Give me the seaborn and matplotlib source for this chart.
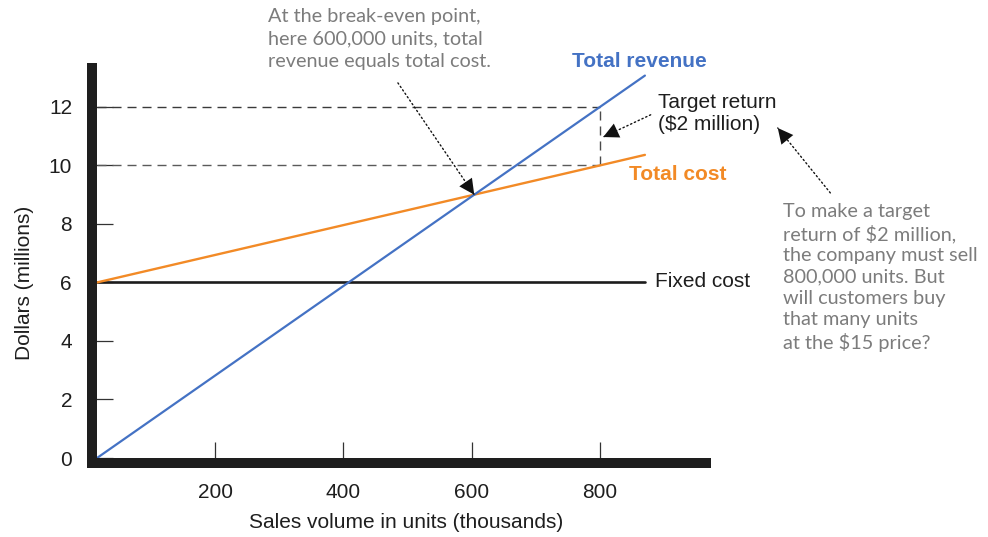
import matplotlib
matplotlib.use("Agg")
import matplotlib.pyplot as plt
import seaborn as sns
import pandas as pd

# Break-even chart values (units in thousands, dollars in millions)
units_k = [16, 604, 800, 870]
revenue = [0, 9, 12, 13.07]
total_cost = [6, 9, 10, 10.36]
fixed_cost = [6, 6, 6, 6]

x_ticks = [200, 400, 600, 800]
y_ticks = [0, 2, 4, 6, 8, 10, 12]

break_even = (604, 9)
target_units = 800
target_revenue = 12
target_cost = 10

sns.set_style("white")
plt.rcParams["font.family"] = ["Liberation Sans", "DejaVu Sans"]

fig = plt.figure(figsize=(9.88, 5.37), dpi=100)
ax = fig.add_axes([97 / 988, 79 / 537, 614 / 988, 395 / 537])

df = pd.DataFrame({"units": units_k, "revenue": revenue,
                   "cost": total_cost, "fixed": fixed_cost})

BLUE = "#4472C4"
ORANGE = "#F28A26"
NOTE = "#7c7c7c"

x0 = units_k[0]
ax.set_xlim(x0, 973)
ax.set_ylim(0, 13.5)

# target-return guide lines
ax.hlines(target_revenue, x0, target_units, colors="#3a3a3a", lw=1.0,
          linestyles=(0, (6.5, 4.3)))
ax.hlines(target_cost, x0, target_units, colors="#5a5a5a", lw=1.0,
          linestyles=(0, (6.5, 4.3)))
ax.vlines(target_units, target_cost, target_revenue, colors="#4a4a4a", lw=1.0,
          linestyles=(0, (6.5, 4.3)))

sns.lineplot(data=df, x="units", y="fixed", color="#1c1c1c", lw=1.9, ax=ax)
sns.lineplot(data=df, x="units", y="cost", color=ORANGE, lw=1.7, ax=ax)
sns.lineplot(data=df, x="units", y="revenue", color=BLUE, lw=1.6, ax=ax)

# heavy axis bars
for side in ("top", "right"):
    ax.spines[side].set_visible(False)
for side in ("left", "bottom"):
    sp = ax.spines[side]
    sp.set_visible(True)
    sp.set_linewidth(7.2)
    sp.set_color("#1e1e1e")
    sp.set_position(("outward", 3.6))
    sp.set_capstyle("butt")
ax.spines["left"].set_bounds(-0.342, 13.5)
ax.spines["bottom"].set_bounds(x0 - 15.6, 973)

ax.set_xticks(x_ticks)
ax.set_yticks(y_ticks)
ax.tick_params(bottom=True, left=True, direction="in", length=15, width=0.9,
               color="#333333", pad=14.4, labelsize=15, labelcolor="#1e1e1e")

ax.set_xlabel("Sales volume in units (thousands)", fontsize=15, color="#1e1e1e")
ax.set_ylabel("Dollars (millions)", fontsize=15, color="#1e1e1e")
ax.xaxis.set_label_coords((406 - 97) / 614, (458 - 513) / 395)
ax.yaxis.set_label_coords((34 - 97) / 614, (458 - 283) / 395)

# line labels
ax.text(757, 13.54, "Total revenue", color=BLUE, fontsize=15,
        fontweight="bold", ha="left", va="center")
ax.text(845, 9.68, "Total cost", color=ORANGE, fontsize=15,
        fontweight="bold", ha="left", va="center")
ax.text(890, 11.76, "Target return\n($2 million)", color="#1e1e1e",
        fontsize=15, ha="left", va="center", linespacing=1.2)
ax.text(885, 6.02, "Fixed cost", color="#1e1e1e", fontsize=15,
        ha="left", va="center")

# notes
note_font = dict(family=["Lato", "DejaVu Sans"], fontweight="normal",
                 color=NOTE, fontsize=14.3, ha="left", va="top")
ax.text(283, 15.38, "At the break-even point,\nhere 600,000 units, total\n"
        "revenue equals total cost.", linespacing=1.4, **note_font)
ax.text(1086, 8.72, "To make a target\nreturn of $2 million,\n"
        "the company must sell\n800,000 units. But\nwill customers buy\n"
        "that many units\nat the $15 price?", linespacing=1.3, **note_font)

# dotted pointer shafts with solid arrowheads
shaft = dict(arrowstyle="-", linestyle=(0, (1, 2)), color="#111111",
             lw=1.0, shrinkA=0, shrinkB=0)
head = dict(arrowstyle="-|>,head_length=0.5,head_width=0.25",
            color="#111111", lw=0, mutation_scale=22, shrinkA=0, shrinkB=0)
pointers = [(break_even, (485, 12.82)),
            ((805, 10.97), (879, 11.73)),
            ((1077, 11.28), (1159, 9.06))]
for tip, tail in pointers:
    ax.annotate("", xy=tip, xytext=tail, arrowprops=shaft,
                annotation_clip=False)
    ax.annotate("", xy=tip, xytext=tail, arrowprops=head,
                annotation_clip=False)

fig.savefig("out.png", dpi=100)
